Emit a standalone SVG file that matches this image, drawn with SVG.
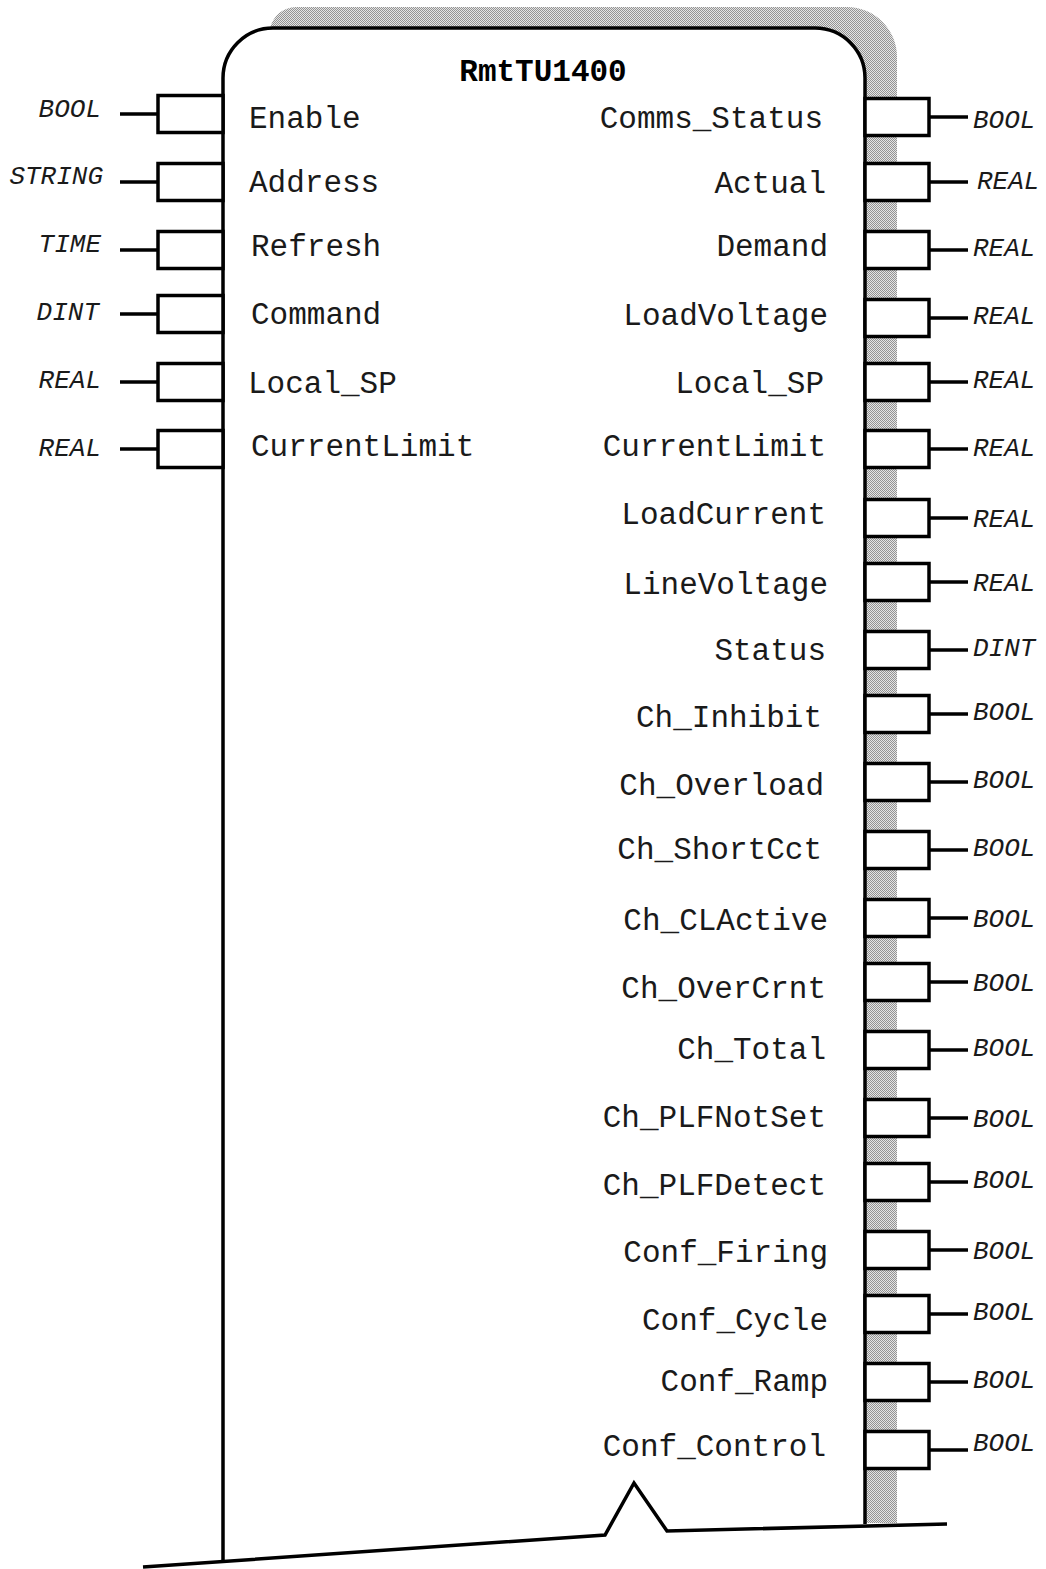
<svg xmlns="http://www.w3.org/2000/svg" width="1046" height="1569" viewBox="0 0 1046 1569">
<defs>
<pattern id="dither" width="2" height="2" patternUnits="userSpaceOnUse">
<rect width="2" height="2" fill="#e4e4e4"/>
<rect width="1" height="1" fill="#939393"/>
<rect x="1" y="1" width="1" height="1" fill="#939393"/>
</pattern>
</defs>
<style>
.line{fill:none;stroke:#000;stroke-width:3.5;stroke-linejoin:miter}
.pin{fill:#fff;stroke:#000;stroke-width:3.5}
.stub{stroke:#000;stroke-width:3.5}
.nm{font-family:"Liberation Mono","Courier New",monospace;font-size:31px;fill:#1a1a1a}
.ty{font-family:"Liberation Mono","Courier New",monospace;font-size:26px;font-style:italic;fill:#1a1a1a}
.ttl{font-family:"Liberation Mono","Courier New",monospace;font-size:31px;font-weight:bold;fill:#000}
.l{text-anchor:start}
.r{text-anchor:end}
</style>
<rect width="1046" height="1569" fill="#fff"/>
<g id="block">
<path d="M270,28 Q276,8 296,7 L847,7 A50,50 0 0 1 897,57 L897,1523 L865,1523 L865,78 A50,50 0 0 0 815,28 Z" fill="url(#dither)"/>
<path class="line" d="M223,1562 L223,78 A50,50 0 0 1 273,28 L815,28 A50,50 0 0 1 865,78 L865,1524"/>
<path class="line" d="M143,1567 L605,1535 L634,1483 L667,1531 L947,1524"/>
<text class="ttl" x="543" y="81" text-anchor="middle">RmtTU1400</text>
</g>
<g id="connectors">
<line class="stub" x1="120" y1="114" x2="158" y2="114"/>
<line class="stub" x1="120" y1="182" x2="158" y2="182"/>
<line class="stub" x1="120" y1="250" x2="158" y2="250"/>
<line class="stub" x1="120" y1="314" x2="158" y2="314"/>
<line class="stub" x1="120" y1="382" x2="158" y2="382"/>
<line class="stub" x1="120" y1="449" x2="158" y2="449"/>
<line class="stub" x1="929" y1="117" x2="968" y2="117"/>
<line class="stub" x1="929" y1="182" x2="968" y2="182"/>
<line class="stub" x1="929" y1="250" x2="968" y2="250"/>
<line class="stub" x1="929" y1="318" x2="968" y2="318"/>
<line class="stub" x1="929" y1="382" x2="968" y2="382"/>
<line class="stub" x1="929" y1="449" x2="968" y2="449"/>
<line class="stub" x1="929" y1="518" x2="968" y2="518"/>
<line class="stub" x1="929" y1="582" x2="968" y2="582"/>
<line class="stub" x1="929" y1="650" x2="968" y2="650"/>
<line class="stub" x1="929" y1="714" x2="968" y2="714"/>
<line class="stub" x1="929" y1="782" x2="968" y2="782"/>
<line class="stub" x1="929" y1="850" x2="968" y2="850"/>
<line class="stub" x1="929" y1="918" x2="968" y2="918"/>
<line class="stub" x1="929" y1="982" x2="968" y2="982"/>
<line class="stub" x1="929" y1="1050" x2="968" y2="1050"/>
<line class="stub" x1="929" y1="1118" x2="968" y2="1118"/>
<line class="stub" x1="929" y1="1182" x2="968" y2="1182"/>
<line class="stub" x1="929" y1="1250" x2="968" y2="1250"/>
<line class="stub" x1="929" y1="1314" x2="968" y2="1314"/>
<line class="stub" x1="929" y1="1382" x2="968" y2="1382"/>
<line class="stub" x1="929" y1="1450" x2="968" y2="1450"/>
</g>
<g id="in-Enable"><rect class="pin" x="158" y="95.5" width="65" height="37"/><text class="ty r" x="101" y="117">BOOL</text><text class="nm l" x="249" y="128">Enable</text></g>
<g id="in-Address"><rect class="pin" x="158" y="163.5" width="65" height="37"/><text class="ty r" x="103" y="184">STRING</text><text class="nm l" x="249" y="192">Address</text></g>
<g id="in-Refresh"><rect class="pin" x="158" y="231.5" width="65" height="37"/><text class="ty r" x="101" y="252">TIME</text><text class="nm l" x="251" y="256">Refresh</text></g>
<g id="in-Command"><rect class="pin" x="158" y="295.5" width="65" height="37"/><text class="ty r" x="99" y="320">DINT</text><text class="nm l" x="251" y="324">Command</text></g>
<g id="in-Local_SP"><rect class="pin" x="158" y="363.5" width="65" height="37"/><text class="ty r" x="101" y="388">REAL</text><text class="nm l" x="248" y="393">Local_SP</text></g>
<g id="in-CurrentLimit"><rect class="pin" x="158" y="430.5" width="65" height="37"/><text class="ty r" x="101" y="456">REAL</text><text class="nm l" x="251" y="456">CurrentLimit</text></g>
<g id="out-Comms_Status"><rect class="pin" x="865" y="98.5" width="64" height="37"/><text class="ty l" x="973" y="128">BOOL</text><text class="nm r" x="823" y="128">Comms_Status</text></g>
<g id="out-Actual"><rect class="pin" x="865" y="163.5" width="64" height="37"/><text class="ty l" x="977" y="189">REAL</text><text class="nm r" x="826" y="193">Actual</text></g>
<g id="out-Demand"><rect class="pin" x="865" y="231.5" width="64" height="37"/><text class="ty l" x="973" y="256">REAL</text><text class="nm r" x="828" y="256">Demand</text></g>
<g id="out-LoadVoltage"><rect class="pin" x="865" y="299.5" width="64" height="37"/><text class="ty l" x="973" y="324">REAL</text><text class="nm r" x="828" y="325">LoadVoltage</text></g>
<g id="out-Local_SP"><rect class="pin" x="865" y="363.5" width="64" height="37"/><text class="ty l" x="973" y="388">REAL</text><text class="nm r" x="824" y="393">Local_SP</text></g>
<g id="out-CurrentLimit"><rect class="pin" x="865" y="430.5" width="64" height="37"/><text class="ty l" x="973" y="456">REAL</text><text class="nm r" x="826" y="456">CurrentLimit</text></g>
<g id="out-LoadCurrent"><rect class="pin" x="865" y="499.5" width="64" height="37"/><text class="ty l" x="973" y="527">REAL</text><text class="nm r" x="826" y="524">LoadCurrent</text></g>
<g id="out-LineVoltage"><rect class="pin" x="865" y="563.5" width="64" height="37"/><text class="ty l" x="973" y="591">REAL</text><text class="nm r" x="828" y="594">LineVoltage</text></g>
<g id="out-Status"><rect class="pin" x="865" y="631.5" width="64" height="37"/><text class="ty l" x="973" y="656">DINT</text><text class="nm r" x="826" y="660">Status</text></g>
<g id="out-Ch_Inhibit"><rect class="pin" x="865" y="695.5" width="64" height="37"/><text class="ty l" x="973" y="720">BOOL</text><text class="nm r" x="822" y="727">Ch_Inhibit</text></g>
<g id="out-Ch_Overload"><rect class="pin" x="865" y="763.5" width="64" height="37"/><text class="ty l" x="973" y="788">BOOL</text><text class="nm r" x="824" y="795">Ch_Overload</text></g>
<g id="out-Ch_ShortCct"><rect class="pin" x="865" y="831.5" width="64" height="37"/><text class="ty l" x="973" y="856">BOOL</text><text class="nm r" x="822" y="859">Ch_ShortCct</text></g>
<g id="out-Ch_CLActive"><rect class="pin" x="865" y="899.5" width="64" height="37"/><text class="ty l" x="973" y="927">BOOL</text><text class="nm r" x="828" y="930">Ch_CLActive</text></g>
<g id="out-Ch_OverCrnt"><rect class="pin" x="865" y="963.5" width="64" height="37"/><text class="ty l" x="973" y="991">BOOL</text><text class="nm r" x="826" y="998">Ch_OverCrnt</text></g>
<g id="out-Ch_Total"><rect class="pin" x="865" y="1031.5" width="64" height="37"/><text class="ty l" x="973" y="1056">BOOL</text><text class="nm r" x="826" y="1059">Ch_Total</text></g>
<g id="out-Ch_PLFNotSet"><rect class="pin" x="865" y="1099.5" width="64" height="37"/><text class="ty l" x="973" y="1127">BOOL</text><text class="nm r" x="826" y="1127">Ch_PLFNotSet</text></g>
<g id="out-Ch_PLFDetect"><rect class="pin" x="865" y="1163.5" width="64" height="37"/><text class="ty l" x="973" y="1188">BOOL</text><text class="nm r" x="826" y="1195">Ch_PLFDetect</text></g>
<g id="out-Conf_Firing"><rect class="pin" x="865" y="1231.5" width="64" height="37"/><text class="ty l" x="973" y="1259">BOOL</text><text class="nm r" x="828" y="1262">Conf_Firing</text></g>
<g id="out-Conf_Cycle"><rect class="pin" x="865" y="1295.5" width="64" height="37"/><text class="ty l" x="973" y="1320">BOOL</text><text class="nm r" x="828" y="1330">Conf_Cycle</text></g>
<g id="out-Conf_Ramp"><rect class="pin" x="865" y="1363.5" width="64" height="37"/><text class="ty l" x="973" y="1388">BOOL</text><text class="nm r" x="828" y="1391">Conf_Ramp</text></g>
<g id="out-Conf_Control"><rect class="pin" x="865" y="1431.5" width="64" height="37"/><text class="ty l" x="973" y="1451">BOOL</text><text class="nm r" x="826" y="1456">Conf_Control</text></g>
</svg>
